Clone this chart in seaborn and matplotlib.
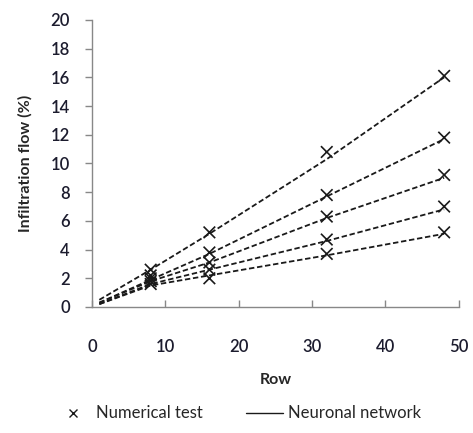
import matplotlib
matplotlib.use('Agg')
import matplotlib.pyplot as plt
from matplotlib.lines import Line2D
import seaborn as sns
import pandas as pd

# measured points (numerical test)
test_rows = [8, 16, 32, 48]
test_s1 = [2.6, 5.2, 10.8, 16.1]
test_s2 = [2.0, 3.8, 7.8, 11.8]
test_s3 = [2.2, 3.1, 6.3, 9.2]
test_s4 = [1.8, 2.6, 4.7, 7.0]
test_s5 = [1.6, 2.0, 3.7, 5.2]

# neuronal network curves
nn_rows = [1, 8, 16, 32, 48]
nn_s1 = [0.5, 2.6, 5.1, 10.3, 16.0]
nn_s2 = [0.3, 1.9, 3.7, 7.7, 11.7]
nn_s3 = [0.3, 1.8, 3.1, 6.2, 9.0]
nn_s4 = [0.2, 1.6, 2.6, 4.6, 6.8]
nn_s5 = [0.2, 1.5, 2.2, 3.6, 5.1]

test_df = pd.concat([
    pd.DataFrame({'Row': test_rows, 'Flow': v, 'Series': name})
    for name, v in [('s1', test_s1), ('s2', test_s2), ('s3', test_s3),
                    ('s4', test_s4), ('s5', test_s5)]
])
nn_df = pd.concat([
    pd.DataFrame({'Row': nn_rows, 'Flow': v, 'Series': name})
    for name, v in [('s1', nn_s1), ('s2', nn_s2), ('s3', nn_s3),
                    ('s4', nn_s4), ('s5', nn_s5)]
])

sns.set_style('white')
plt.rcParams['font.family'] = ['Lato', 'DejaVu Sans']

fig = plt.figure(figsize=(4.73, 4.33), dpi=100)
ax = fig.add_axes([0.1945, 0.291, 0.7755, 0.663])

blk = ['#1a1a1a'] * 5
sns.lineplot(data=nn_df, x='Row', y='Flow', hue='Series', palette=blk,
             ax=ax, legend=False, linewidth=1.3)
for ln in ax.lines:
    ln.set_linestyle((0, (3, 1.5)))
sns.scatterplot(data=test_df, x='Row', y='Flow', hue='Series', palette=blk,
                marker='x', s=70, linewidth=1.2, ax=ax, legend=False, zorder=3)

ax.set_xlim(0, 50)
ax.set_ylim(0, 20)
ax.set_xticks(range(0, 51, 10))
ax.set_yticks(range(0, 21, 2))
sns.despine(ax=ax)
for sp in ['left', 'bottom']:
    ax.spines[sp].set_color('#888888')
    ax.spines[sp].set_linewidth(1.0)

ax.tick_params(axis='y', direction='out', length=5, width=1, color='#888888',
               labelsize=12, labelcolor='#1c1c2e', pad=11, left=True)
ax.tick_params(axis='x', direction='in', length=5, width=1, color='#888888',
               labelsize=12, labelcolor='#1c1c2e', pad=23, bottom=True)
for lab in ax.get_xticklabels() + ax.get_yticklabels():
    lab.set_fontweight('semibold')

ax.set_xlabel('Row', fontsize=11.5, fontweight='bold', labelpad=13)
ax.set_ylabel('Infiltration flow (%)', fontsize=11.5, fontweight='bold', labelpad=13)

handles = [
    Line2D([], [], color='#1a1a1a', marker='x', linestyle='none', markersize=6, markeredgewidth=1),
    Line2D([], [], color='#1a1a1a', linewidth=1),
]
fig.legend(handles, ['Numerical test', 'Neuronal network'], loc='lower center',
           bbox_to_anchor=(0.503, -0.008), ncol=2, frameon=False, fontsize=12,
           handlelength=2.2, columnspacing=2.6, handletextpad=0.3)

fig.savefig('out.png', dpi=100)
